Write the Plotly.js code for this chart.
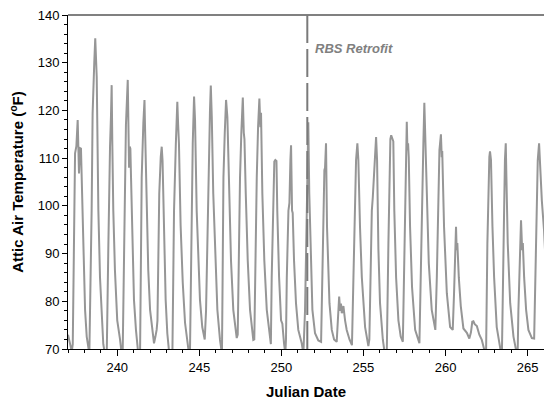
<!DOCTYPE html>
<html>
<head>
<meta charset="utf-8">
<script src="https://cdn.plot.ly/plotly-3.0.1.min.js"></script>
<style>html,body{margin:0;padding:0;background:#fff;}#chart{width:544px;height:403px;}</style>
</head>
<body>
<div id="chart"></div>
<script>
// Julian date (day of year, fractional) of each reading
const julianDate = [
237.00,237.12,237.23,237.29,237.37,237.43,237.51,237.59,237.67,237.73,237.79,237.83,237.93,238.04,238.14,238.24,
238.30,238.44,238.50,238.60,238.66,238.75,238.79,238.85,238.95,239.05,239.15,239.25,
239.36,239.46,239.52,239.56,239.62,239.66,239.70,239.76,239.86,240.00,240.17,240.27,
240.33,240.43,240.49,240.53,240.64,240.68,240.72,240.76,240.80,240.84,240.92,241.02,241.14,241.28,
241.39,241.45,241.49,241.59,241.66,241.69,241.80,241.89,242.00,242.16,242.24,242.32,242.40,
242.45,242.50,242.56,242.65,242.71,242.76,242.85,242.95,243.05,243.17,
243.36,243.46,243.57,243.66,243.71,243.76,243.86,243.99,244.13,244.27,244.37,
244.43,244.51,244.60,244.68,244.74,244.84,244.94,245.04,245.18,245.33,
245.41,245.51,245.59,245.65,245.70,245.76,245.85,245.98,246.10,246.26,246.38,
246.42,246.47,246.55,246.63,246.71,246.81,246.93,247.07,247.28,
247.34,247.38,247.48,247.56,247.65,247.71,247.75,247.83,247.95,248.09,248.29,
248.35,248.40,248.50,248.58,248.66,248.72,248.76,248.84,248.96,249.11,249.31,
249.36,249.41,249.51,249.57,249.63,249.70,249.75,249.86,249.98,250.06,250.16,250.24,
250.28,250.33,250.43,250.49,250.55,250.59,250.65,250.69,250.77,250.89,251.03,251.24,
251.34,251.44,251.55,251.61,251.64,251.70,251.79,251.89,252.05,252.25,252.42,
252.46,252.56,252.62,252.66,252.72,252.78,252.83,252.93,253.07,253.21,253.37,
253.45,253.52,253.58,253.63,253.68,253.78,253.88,253.98,254.15,254.30,
254.39,254.49,254.55,254.63,254.69,254.79,254.90,255.10,255.30,
255.36,255.42,255.51,255.57,255.65,255.71,255.77,255.83,255.91,256.01,256.18,256.32,
256.42,256.52,256.58,256.64,256.69,256.75,256.82,256.88,256.99,257.13,257.27,257.40,
257.47,257.55,257.60,257.64,257.68,257.72,257.76,257.84,257.96,258.15,258.41,
258.49,258.55,258.61,258.65,258.71,258.77,258.86,258.98,259.16,259.38,
259.47,259.57,259.63,259.72,259.77,259.80,259.91,260.08,260.28,260.44,
260.52,260.60,260.64,260.68,260.72,260.81,260.93,261.09,261.30,261.45,
261.55,261.63,261.70,261.78,261.91,262.06,262.21,262.35,
262.47,262.55,262.63,262.67,262.71,262.77,262.86,262.96,263.12,263.28,263.39,
263.44,263.49,263.57,263.62,263.67,263.71,263.79,263.94,264.14,264.34,
264.40,264.44,264.54,264.60,264.67,264.71,264.79,264.91,265.05,265.26,265.40,
265.48,265.56,265.62,265.70,265.76,265.87,266.00,266.10
];
// Attic air temperature (deg F) at each reading
const atticTempF = [
73.0,71.5,69.5,71,92,111,112.5,118,106.8,112.1,112,106,88.6,78.2,72.6,69.5,
69,99,119.4,130,135.1,127,113,99,85,76.7,71,69,
69,92,109.6,112.4,119,125.3,113,99,86.5,76,72,69,
69,92,113,117,126.4,113,108,112.4,112,106,92,80.3,74,69,
69,90,106,117.3,122.2,117,99,86.5,78.2,72.6,71.2,72.5,74,
76,85,102.6,110.2,112.4,109.5,92,80.3,73.3,69,
69,99,113,121.8,117,113,96,84,75.5,71.2,69,
69,92,113,122.9,118,99,88.6,80.3,74.6,72,
78,99,113,120,125.2,118.7,102.6,88.6,78.2,71.9,69,
85,106,115.2,122.2,118.6,102.6,88.6,78.2,72.3,
73,85,106,115.3,122.7,115.3,114,102.6,88.6,78.2,71.9,
72,85,106,116.5,122.5,116.5,119.5,102.6,88.6,78.2,71.2,
71,85,99,109.3,109.6,109.4,99,85.1,76,75.3,71.2,69,
72,85,99,100.6,109.6,112.7,99,98.5,88.6,79.6,74,71.2,
69,78,99,110,117.5,102.6,88.6,78.2,73.3,71.8,71.5,
80,102.6,107.5,108,113.1,95.6,90.7,79.6,74,72,71.5,
76,81,78,79.5,77.5,79,76,74,72,70.8,
85,102.6,109.6,113.1,109.6,95.6,85.1,74.6,70.6,
72,84,99,101.8,107.5,111.7,114.4,109.6,91,79.6,72,68.5,
69,92,106,114,114.8,114.3,113.5,99,85,76,72.6,71.5,
85,106,111.7,117.6,111.7,113.1,110.2,95.6,83,74,71.2,
85,102.6,111,113,121.6,114.5,101.5,88,78.2,74,
85,102.6,111.7,115,110.2,111.5,95.6,81.7,74.6,74,
81.7,92.2,95.6,90.7,92.2,85,79,74.3,73.4,72.2,
73.5,75.7,75.8,75.2,74.8,73,71.9,70,
69,92,106,110.2,111.4,109.6,95.6,85.1,74.6,71.2,69,
70,85,99,109.6,113.1,106,92.2,79.6,72.6,69,
70,78,92,97,90.7,92.2,85,78.2,74,72.3,72.2,
85,102.6,109.6,113.1,107.5,101,95,88
];
const retrofitDay = [251.58];
const retrofitLabel = ['RBS Retrofit'];
const xTickVals = [240, 245, 250, 255, 260, 265];
const yTickVals = [70, 80, 90, 100, 110, 120, 130, 140];

const FONT = 'Arial, "Liberation Sans", sans-serif';

const trace = {
  x: julianDate,
  y: atticTempF,
  type: 'scatter',
  mode: 'lines',
  line: {color: '#969696', width: 2},
  hoverinfo: 'x+y',
  showlegend: false
};

const layout = {
  width: 544,
  height: 403,
  margin: {l: 68, r: 0, t: 15, b: 54},
  paper_bgcolor: '#ffffff',
  plot_bgcolor: '#ffffff',
  font: {family: FONT, color: '#000000', size: 13},
  showlegend: false,
  xaxis: {
    range: [237, 266],
    tickmode: 'array',
    tickvals: xTickVals,
    ticktext: xTickVals.map(String),
    ticks: 'outside',
    ticklen: 6,
    tickwidth: 1,
    tickcolor: '#000000',
    showline: true,
    linecolor: '#000000',
    linewidth: 1,
    showgrid: false,
    zeroline: false,
    tickfont: {family: FONT, size: 13, color: '#000000'},
    minor: {dtick: 1, tick0: 237, ticks: 'outside', ticklen: 3, tickcolor: '#000000', showgrid: false},
    title: {text: '<b>Julian Date</b>', font: {family: FONT, size: 15, color: '#000000'}, standoff: 12},
    automargin: false
  },
  yaxis: {
    range: [70, 140],
    tickmode: 'array',
    tickvals: yTickVals,
    ticktext: yTickVals.map(String),
    ticks: 'outside',
    ticklen: 5,
    tickwidth: 1,
    tickcolor: '#000000',
    showline: true,
    linecolor: '#000000',
    linewidth: 1,
    showgrid: false,
    zeroline: false,
    tickfont: {family: FONT, size: 13, color: '#000000'},
    minor: {dtick: 2, tick0: 70, ticks: 'outside', ticklen: 3, tickcolor: '#000000', showgrid: false},
    title: {text: '<b>Attic Air Temperature (<sup>o</sup>F)</b>', font: {family: FONT, size: 15, color: '#000000'}, standoff: 10},
    automargin: false
  },
  shapes: [
    {type: 'line', xref: 'paper', yref: 'paper', x0: 0, x1: 1, y0: 1, y1: 1,
     line: {color: '#808080', width: 2}},
    {type: 'line', xref: 'x', yref: 'paper', x0: retrofitDay[0], x1: retrofitDay[0], y0: 0, y1: 1,
     line: {color: '#7a7a7a', width: 2, dash: '28px,6px'}}
  ],
  annotations: [
    {x: retrofitDay[0] + 0.33, y: 132.9, xref: 'x', yref: 'y', xanchor: 'left', yanchor: 'middle',
     text: '<b><i>' + retrofitLabel[0] + '</i></b>', showarrow: false,
     font: {family: FONT, size: 13, color: '#808080'}}
  ]
};

Plotly.newPlot('chart', [trace], layout, {displayModeBar: false, staticPlot: true});
</script>
</body>
</html>
